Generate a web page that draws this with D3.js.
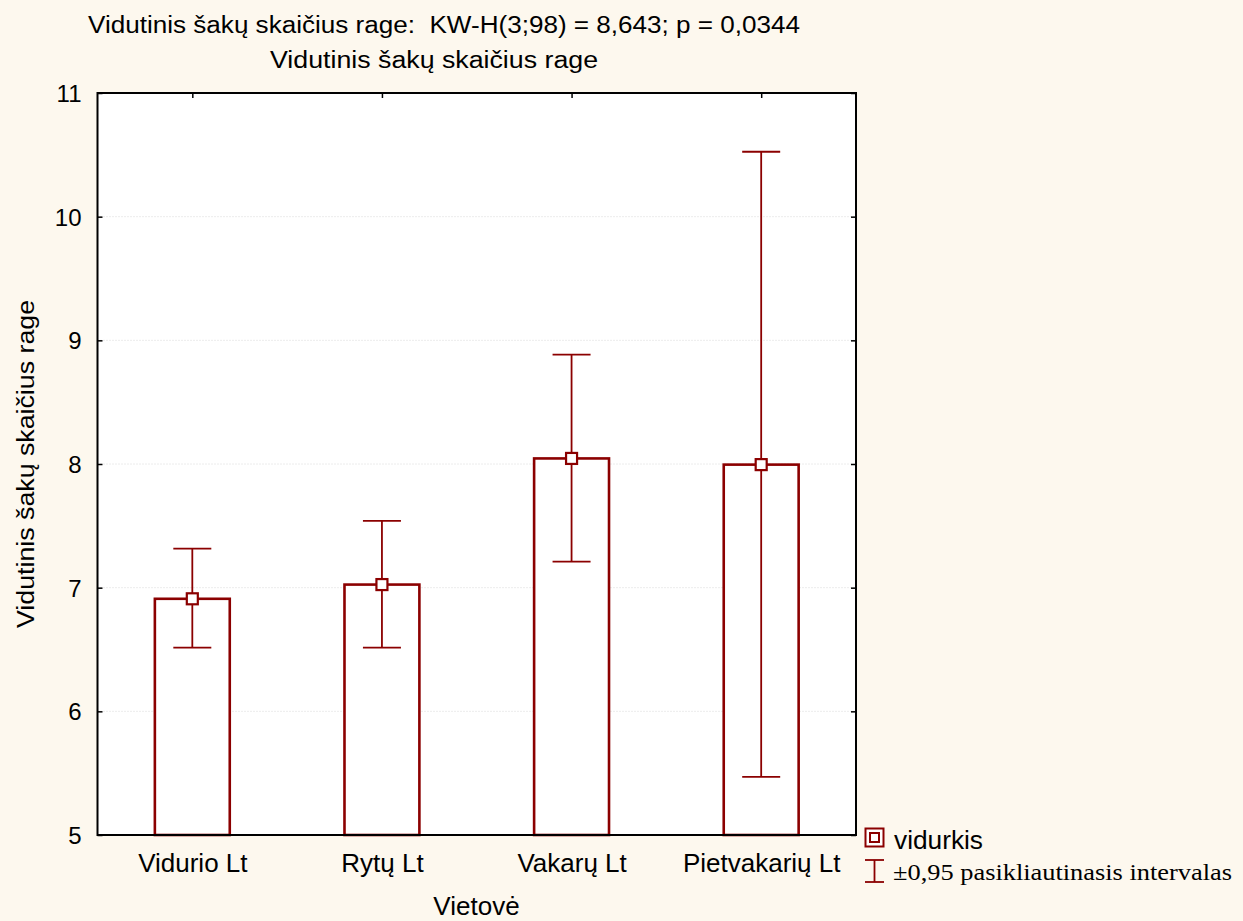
<!DOCTYPE html>
<html><head><meta charset="utf-8">
<script src="https://cdn.jsdelivr.net/npm/d3@7"></script>
<style>html,body{margin:0;padding:0;background:#fdf8ee;}svg{display:block;}</style>
</head><body>
<svg id="chart" width="1243" height="921"></svg>
<script>
const categories = ["Vidurio Lt", "Rytų Lt", "Vakarų Lt", "Pietvakarių Lt"];
const means = [6.91, 7.025, 8.045, 7.995];
const ciLower = [6.515, 6.515, 7.21, 5.47];
const ciUpper = [7.315, 7.54, 8.885, 10.525];
const yTicks = [5, 6, 7, 8, 9, 10, 11];
const title1 = "Vidutinis šakų skaičius rage:  KW-H(3;98) = 8,643; p = 0,0344";
const title2 = "Vidutinis šakų skaičius rage";
const yLabel = "Vidutinis šakų skaičius rage";
const xLabel = "Vietovė";
const legendLabels = ["vidurkis", "±0,95 pasikliautinasis intervalas"];

const red = "#8b0000";
const svg = d3.select("#chart");
const L = 97.5, R = 856, T = 93, B = 835;

const x = d3.scalePoint().domain(categories).range([L, R]).padding(0.5);
const y = d3.scaleLinear().domain([5, 11]).range([B, T]);
const barW = x.step() * 0.395;

svg.append("rect").attr("x", L).attr("y", T).attr("width", R - L).attr("height", B - T).attr("fill", "#fff");

// gridlines
svg.append("g").selectAll("line").data(yTicks.filter(d => d > 5 && d < 11)).join("line")
  .attr("x1", L).attr("x2", R).attr("y1", d => y(d)).attr("y2", d => y(d))
  .attr("stroke", "#d8d8d8").attr("stroke-width", 1).attr("stroke-dasharray", "1,2");

const sans = "'Liberation Sans', Arial, sans-serif";
// axes
const axL = d3.axisLeft(y).tickValues(yTicks).tickSizeInner(-5).tickSizeOuter(0).tickPadding(16).tickFormat(d3.format("d"));
const axR = d3.axisRight(y).tickValues(yTicks).tickSizeInner(-5).tickSizeOuter(0).tickFormat("");
const axB = d3.axisBottom(x).tickSizeInner(-5).tickSizeOuter(0).tickPadding(37);
const axT = d3.axisTop(x).tickSizeInner(-5).tickSizeOuter(0).tickFormat("");

function styleAxis(g) {
  g.select(".domain").remove();
  g.selectAll(".tick line").attr("stroke", "#000").attr("stroke-width", 1.5);
  g.selectAll("text").attr("fill", "#000").style("font-family", sans);
}
svg.append("g").attr("transform", `translate(${L},0)`).call(axL).call(styleAxis)
  .selectAll("text").style("font-size", "24px").attr("dy", "0.36em");
svg.append("g").attr("transform", `translate(${R},0)`).call(axR).call(styleAxis);
svg.append("g").attr("transform", `translate(0,${B})`).call(axB).call(styleAxis)
  .selectAll("text").style("font-size", "26px").attr("dy", "0");
svg.append("g").attr("transform", `translate(0,${T})`).call(axT).call(styleAxis);

// bars
svg.append("g").selectAll("rect").data(categories).join("rect")
  .attr("x", d => x(d) - barW / 2).attr("width", barW)
  .attr("y", (d, i) => y(means[i])).attr("height", (d, i) => y(5) - y(means[i]))
  .attr("fill", "#fff").attr("stroke", red).attr("stroke-width", 2.6);

// frame
svg.append("rect").attr("x", L).attr("y", T).attr("width", R - L).attr("height", B - T)
  .attr("fill", "none").attr("stroke", "#000").attr("stroke-width", 2);

// error bars
const capW = 38;
const eg = svg.append("g").attr("stroke", red).attr("stroke-width", 1.8);
categories.forEach((c, i) => {
  const cx = x(c);
  eg.append("line").attr("x1", cx).attr("x2", cx).attr("y1", y(ciLower[i])).attr("y2", y(ciUpper[i]));
  eg.append("line").attr("x1", cx - capW / 2).attr("x2", cx + capW / 2).attr("y1", y(ciUpper[i])).attr("y2", y(ciUpper[i]));
  eg.append("line").attr("x1", cx - capW / 2).attr("x2", cx + capW / 2).attr("y1", y(ciLower[i])).attr("y2", y(ciLower[i]));
});
// mean markers
svg.append("g").selectAll("rect").data(categories).join("rect")
  .attr("x", d => x(d) - 5.5).attr("y", (d, i) => y(means[i]) - 5.5)
  .attr("width", 11).attr("height", 11)
  .attr("fill", "#fff").attr("stroke", red).attr("stroke-width", 2.2);

// titles
svg.append("text").attr("x", 444).attr("y", 33).attr("text-anchor", "middle").style("white-space", "pre")
  .style("font-family", sans).style("font-size", "23px").attr("textLength", 712).attr("lengthAdjust", "spacingAndGlyphs").text(title1);
svg.append("text").attr("x", 434).attr("y", 68).attr("text-anchor", "middle")
  .style("font-family", sans).style("font-size", "23px").attr("textLength", 328).attr("lengthAdjust", "spacingAndGlyphs").text(title2);
svg.append("text").attr("transform", "translate(34,464) rotate(-90)").attr("text-anchor", "middle")
  .style("font-family", sans).style("font-size", "23px").attr("textLength", 328).attr("lengthAdjust", "spacingAndGlyphs").text(yLabel);
svg.append("text").attr("x", 476.5).attr("y", 915).attr("text-anchor", "middle")
  .style("font-family", sans).style("font-size", "26px").text(xLabel);

// legend
const lg = svg.append("g");
lg.append("rect").attr("x", 865.5).attr("y", 828.5).attr("width", 18).attr("height", 18).attr("fill", "#fff").attr("stroke", red).attr("stroke-width", 2);
lg.append("rect").attr("x", 870).attr("y", 833).attr("width", 9).attr("height", 9).attr("fill", "#fff").attr("stroke", red).attr("stroke-width", 2);
lg.append("text").attr("x", 894).attr("y", 849).style("font-family", sans).style("font-size", "25px")
  .attr("textLength", 89).attr("lengthAdjust", "spacingAndGlyphs").text(legendLabels[0]);
const ex = 874.5;
lg.append("line").attr("x1", ex).attr("x2", ex).attr("y1", 860).attr("y2", 882).attr("stroke", red).attr("stroke-width", 1.8);
lg.append("line").attr("x1", ex - 9.5).attr("x2", ex + 9.5).attr("y1", 860).attr("y2", 860).attr("stroke", red).attr("stroke-width", 1.8);
lg.append("line").attr("x1", ex - 9.5).attr("x2", ex + 9.5).attr("y1", 882).attr("y2", 882).attr("stroke", red).attr("stroke-width", 1.8);
lg.append("text").attr("x", 893).attr("y", 880).style("font-family", "'Liberation Serif', 'Times New Roman', serif").style("font-size", "24px")
  .attr("textLength", 339).attr("lengthAdjust", "spacingAndGlyphs").text(legendLabels[1]);
</script>
</body></html>
